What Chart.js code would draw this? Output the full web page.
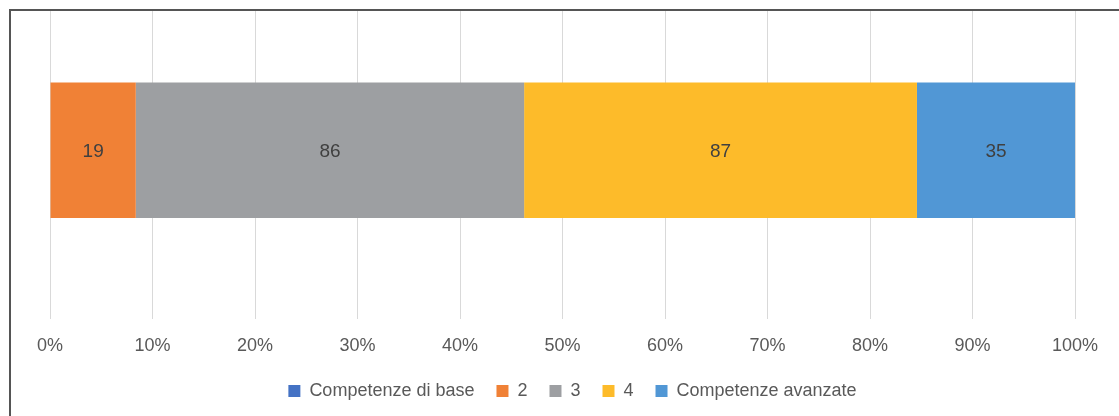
<!DOCTYPE html>
<html>
<head>
<meta charset="utf-8">
<script src="https://cdn.jsdelivr.net/npm/chart.js@4/dist/chart.umd.min.js"></script>
<style>
  body { margin: 0; background: #fff; }
  #wrap {
    position: absolute; left: 9px; top: 9px;
    width: 1108px; height: 405px; overflow: hidden;
    border-left: 2px solid #555; border-top: 2px solid #555;
  }
  #c { position: absolute; left: 0; top: -30px; }
</style>
</head>
<body>
<div id="wrap"><canvas id="c" width="1108" height="435"></canvas></div>
<script>
// data
var categories = [""];
var seriesNames = ["Competenze di base", "2", "3", "4", "Competenze avanzate"];
var seriesCounts = [0, 19, 86, 87, 35];
var seriesColors = ["#4472C4", "#F08136", "#9D9FA2", "#FDBB2A", "#5197D5"];
var tickValues = [0, 10, 20, 30, 40, 50, 60, 70, 80, 90, 100];

var total = seriesCounts.reduce((a, b) => a + b, 0);

var legendShrink = 13;

// value labels + small legend adjustments
var valueLabels = {
  id: "valueLabels",
  beforeLayout(chart) {
    let lg = chart.legend;
    if (lg && !lg._wrapped) {
      let fit = lg.fit.bind(lg);
      lg.fit = function () {
        fit();
        this.height -= legendShrink;
      };
      lg._wrapped = true;
    }
  },
  afterLayout(chart) {
    let lg = chart.legend;
    lg.left += 10;
    lg.right += 10;
    lg.top -= legendShrink;
  },
  afterDatasetsDraw(chart) {
    let ctx = chart.ctx;
    ctx.save();
    ctx.font = "19px 'Liberation Sans', Arial, sans-serif";
    ctx.fillStyle = "#404040";
    ctx.textAlign = "center";
    ctx.textBaseline = "middle";
    chart.data.datasets.forEach((ds, i) => {
      if (!seriesCounts[i]) return;
      chart.getDatasetMeta(i).data.forEach((bar) => {
        let c = bar.getCenterPoint();
        ctx.fillText(seriesCounts[i], c.x, c.y + 2);
      });
    });
    ctx.restore();
  },
};

var datasets = seriesNames.map((name, i) => ({
  label: name,
  data: [(seriesCounts[i] / total) * 100],
  backgroundColor: seriesColors[i],
  borderWidth: 0,
  barPercentage: 0.4,
  categoryPercentage: 1,
}));

new Chart(document.getElementById("c"), {
  type: "bar",
  data: { labels: categories, datasets: datasets },
  plugins: [valueLabels],
  options: {
    indexAxis: "y",
    responsive: false,
    animation: false,
    layout: { padding: { left: 39, right: 44, top: 0, bottom: 6 } },
    scales: {
      x: {
        stacked: true,
        min: 0,
        max: 100,
        afterBuildTicks: (axis) => {
          axis.ticks = tickValues.map((v) => ({ value: v }));
        },
        grid: { color: "#D9D9D9", drawTicks: false },
        border: { display: false },
        ticks: {
          padding: 16,
          color: "#595959",
          font: { family: "'Liberation Sans', Arial, sans-serif", size: 18 },
          callback: (v) => v + "%",
        },
      },
      y: { stacked: true, display: false },
    },
    plugins: {
      tooltip: { enabled: false },
      legend: {
        position: "bottom",
        labels: {
          boxWidth: 12,
          boxHeight: 12,
          padding: 22,
          color: "#595959",
          font: { family: "'Liberation Sans', Arial, sans-serif", size: 18 },
        },
      },
    },
  },
});
</script>
</body>
</html>
